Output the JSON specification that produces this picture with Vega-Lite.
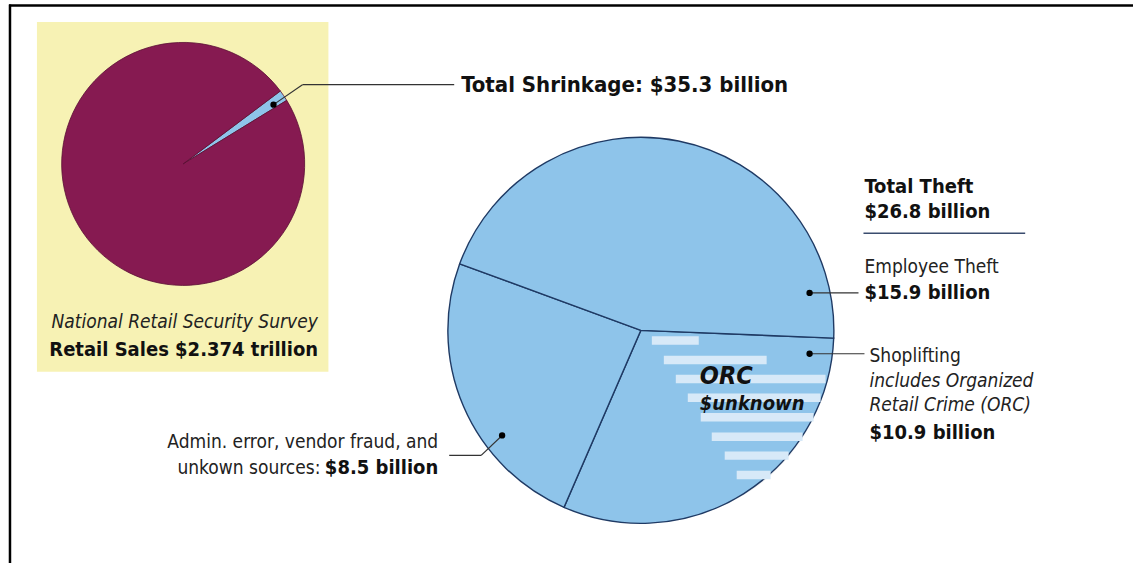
{
  "$schema": "https://vega.github.io/schema/vega-lite/v6.json",
  "width": 1135,
  "height": 565,
  "autosize": {"type": "fit", "contains": "padding"},
  "padding": 0,
  "background": "white",
  "config": {"view": {"stroke": null}, "font": "DejaVu Sans Condensed, Roboto, sans-serif"},
  "data": {"values": [{}]},
  "resolve": {"scale": {"theta": "independent", "color": "independent"}},
  "layer": [
    {
      "mark": {"type": "rule", "color": "#000000", "strokeWidth": 2.5},
      "encoding": {
        "x": {"datum": 9, "type": "quantitative", "scale": {"domain": [0, 1135], "nice": false, "zero": false}, "axis": null},
        "x2": {"datum": 1135},
        "y": {"datum": 5.5, "type": "quantitative", "scale": {"domain": [0, 565], "reverse": true, "nice": false, "zero": false}, "axis": null}
      }
    },
    {
      "mark": {"type": "rule", "color": "#000000", "strokeWidth": 2.5},
      "encoding": {
        "x": {"datum": 10, "type": "quantitative", "scale": {"domain": [0, 1135], "nice": false, "zero": false}, "axis": null},
        "y": {"datum": 4.5, "type": "quantitative", "scale": {"domain": [0, 565], "reverse": true, "nice": false, "zero": false}, "axis": null},
        "y2": {"datum": 565}
      }
    },
    {
      "mark": {"type": "rect", "color": "#F7F2B4"},
      "encoding": {
        "x": {"datum": 37, "type": "quantitative", "scale": {"domain": [0, 1135], "nice": false, "zero": false}, "axis": null},
        "x2": {"datum": 329},
        "y": {"datum": 22, "type": "quantitative", "scale": {"domain": [0, 565], "reverse": true, "nice": false, "zero": false}, "axis": null},
        "y2": {"datum": 373}
      }
    },
    {
      "data": {"values": [
        {"segment": "Total Shrinkage", "value": 35.3, "k": 1},
        {"segment": "Other retail sales", "value": 2338.7, "k": 2}
      ]},
      "mark": {"type": "arc", "radius": 121.5, "stroke": "#5A0F33", "strokeWidth": 0.8},
      "encoding": {
        "x": {"datum": 183.5, "type": "quantitative", "scale": {"domain": [0, 1135], "nice": false, "zero": false}, "axis": null},
        "y": {"datum": 164.5, "type": "quantitative", "scale": {"domain": [0, 565], "reverse": true, "nice": false, "zero": false}, "axis": null},
        "theta": {"field": "value", "type": "quantitative", "stack": true, "scale": {"range": [0.927, 7.2102]}},
        "order": {"field": "k", "type": "quantitative"},
        "color": {"field": "segment", "type": "nominal", "legend": null,
          "scale": {"domain": ["Total Shrinkage", "Other retail sales"], "range": ["#8EC4EA", "#861A51"]}}
      }
    },
    {
      "mark": {"type": "circle", "size": 126000, "color": "#000000", "opacity": 0.05},
      "encoding": {
        "x": {"datum": 654, "type": "quantitative", "scale": {"domain": [0, 1135], "nice": false, "zero": false}, "axis": null},
        "y": {"datum": 344, "type": "quantitative", "scale": {"domain": [0, 565], "reverse": true, "nice": false, "zero": false}, "axis": null}
      }
    },
    {
      "mark": {"type": "circle", "size": 121000, "color": "#000000", "opacity": 0.09},
      "encoding": {
        "x": {"datum": 650, "type": "quantitative", "scale": {"domain": [0, 1135], "nice": false, "zero": false}, "axis": null},
        "y": {"datum": 340, "type": "quantitative", "scale": {"domain": [0, 565], "reverse": true, "nice": false, "zero": false}, "axis": null}
      }
    },
    {
      "mark": {"type": "circle", "size": 118000, "color": "#000000", "opacity": 0.14},
      "encoding": {
        "x": {"datum": 646, "type": "quantitative", "scale": {"domain": [0, 1135], "nice": false, "zero": false}, "axis": null},
        "y": {"datum": 336, "type": "quantitative", "scale": {"domain": [0, 565], "reverse": true, "nice": false, "zero": false}, "axis": null}
      }
    },
    {
      "data": {"values": [
        {"category": "Shoplifting", "value": 10.9, "k": 1},
        {"category": "Admin. error, vendor fraud, and unkown sources", "value": 8.5, "k": 2},
        {"category": "Employee Theft", "value": 15.9, "k": 3}
      ]},
      "mark": {"type": "arc", "radius": 193, "fill": "#8EC4EA", "stroke": "#1F3A64", "strokeWidth": 1.4},
      "encoding": {
        "x": {"datum": 642, "type": "quantitative", "scale": {"domain": [0, 1135], "nice": false, "zero": false}, "axis": null},
        "y": {"datum": 331.5, "type": "quantitative", "scale": {"domain": [0, 565], "reverse": true, "nice": false, "zero": false}, "axis": null},
        "theta": {"field": "value", "type": "quantitative", "stack": true, "scale": {"range": [1.611, 7.8942]}},
        "order": {"field": "k", "type": "quantitative"}
      }
    },
    {
      "data": {"values": [
        {"y": 337.5, "y2": 346, "x": 653, "x2": 700},
        {"y": 357, "y2": 365.5, "x": 665, "x2": 768},
        {"y": 376, "y2": 384.5, "x": 677, "x2": 827},
        {"y": 395, "y2": 403.5, "x": 689, "x2": 822},
        {"y": 414.5, "y2": 423, "x": 702, "x2": 815},
        {"y": 434, "y2": 442.5, "x": 713, "x2": 804},
        {"y": 453, "y2": 461.5, "x": 726, "x2": 790},
        {"y": 472.5, "y2": 481, "x": 738, "x2": 772}
      ]},
      "mark": {"type": "rect", "color": "#D7E9F8"},
      "encoding": {
        "x": {"field": "x", "type": "quantitative", "scale": {"domain": [0, 1135], "nice": false, "zero": false}, "axis": null},
        "x2": {"field": "x2"},
        "y": {"field": "y", "type": "quantitative", "scale": {"domain": [0, 565], "reverse": true, "nice": false, "zero": false}, "axis": null},
        "y2": {"field": "y2"}
      }
    },
    {
      "mark": {"type": "rule", "color": "#333333", "strokeWidth": 1.2},
      "encoding": {
        "x": {"datum": 274, "type": "quantitative", "scale": {"domain": [0, 1135], "nice": false, "zero": false}, "axis": null},
        "y": {"datum": 105, "type": "quantitative", "scale": {"domain": [0, 565], "reverse": true, "nice": false, "zero": false}, "axis": null},
        "x2": {"datum": 303},
        "y2": {"datum": 85}
      }
    },
    {
      "mark": {"type": "rule", "color": "#333333", "strokeWidth": 1.2},
      "encoding": {
        "x": {"datum": 303, "type": "quantitative", "scale": {"domain": [0, 1135], "nice": false, "zero": false}, "axis": null},
        "y": {"datum": 85, "type": "quantitative", "scale": {"domain": [0, 565], "reverse": true, "nice": false, "zero": false}, "axis": null},
        "x2": {"datum": 455}
      }
    },
    {
      "mark": {"type": "rule", "color": "#333333", "strokeWidth": 1.2},
      "encoding": {
        "x": {"datum": 811, "type": "quantitative", "scale": {"domain": [0, 1135], "nice": false, "zero": false}, "axis": null},
        "y": {"datum": 294, "type": "quantitative", "scale": {"domain": [0, 565], "reverse": true, "nice": false, "zero": false}, "axis": null},
        "x2": {"datum": 860}
      }
    },
    {
      "mark": {"type": "rule", "color": "#333333", "strokeWidth": 1.2},
      "encoding": {
        "x": {"datum": 811, "type": "quantitative", "scale": {"domain": [0, 1135], "nice": false, "zero": false}, "axis": null},
        "y": {"datum": 355, "type": "quantitative", "scale": {"domain": [0, 565], "reverse": true, "nice": false, "zero": false}, "axis": null},
        "x2": {"datum": 866}
      }
    },
    {
      "mark": {"type": "rule", "color": "#333333", "strokeWidth": 1.2},
      "encoding": {
        "x": {"datum": 503, "type": "quantitative", "scale": {"domain": [0, 1135], "nice": false, "zero": false}, "axis": null},
        "y": {"datum": 437, "type": "quantitative", "scale": {"domain": [0, 565], "reverse": true, "nice": false, "zero": false}, "axis": null},
        "x2": {"datum": 482},
        "y2": {"datum": 457}
      }
    },
    {
      "mark": {"type": "rule", "color": "#333333", "strokeWidth": 1.2},
      "encoding": {
        "x": {"datum": 482, "type": "quantitative", "scale": {"domain": [0, 1135], "nice": false, "zero": false}, "axis": null},
        "y": {"datum": 457, "type": "quantitative", "scale": {"domain": [0, 565], "reverse": true, "nice": false, "zero": false}, "axis": null},
        "x2": {"datum": 450}
      }
    },
    {
      "mark": {"type": "rule", "color": "#3A4C6E", "strokeWidth": 1.5},
      "encoding": {
        "x": {"datum": 865, "type": "quantitative", "scale": {"domain": [0, 1135], "nice": false, "zero": false}, "axis": null},
        "y": {"datum": 234, "type": "quantitative", "scale": {"domain": [0, 565], "reverse": true, "nice": false, "zero": false}, "axis": null},
        "x2": {"datum": 1027}
      }
    },
    {
      "data": {"values": [
        {"label": "Total Shrinkage", "px": 274, "py": 105},
        {"label": "Employee Theft", "px": 811, "py": 294},
        {"label": "Shoplifting", "px": 811, "py": 355},
        {"label": "Admin. error", "px": 503, "py": 437}
      ]},
      "mark": {"type": "circle", "size": 40, "color": "#000000", "opacity": 1},
      "encoding": {
        "x": {"field": "px", "type": "quantitative", "scale": {"domain": [0, 1135], "nice": false, "zero": false}, "axis": null},
        "y": {"field": "py", "type": "quantitative", "scale": {"domain": [0, 565], "reverse": true, "nice": false, "zero": false}, "axis": null}
      }
    },
    {
      "mark": {"type": "text", "text": "Total Shrinkage: $35.3 billion", "fontWeight": "bold", "fontSize": 22, "align": "left", "baseline": "middle", "color": "#111111"},
      "encoding": {
        "x": {"datum": 462, "type": "quantitative", "scale": {"domain": [0, 1135], "nice": false, "zero": false}, "axis": null},
        "y": {"datum": 85, "type": "quantitative", "scale": {"domain": [0, 565], "reverse": true, "nice": false, "zero": false}, "axis": null}
      }
    },
    {
      "mark": {"type": "text", "text": "National Retail Security Survey", "fontStyle": "italic", "fontSize": 19, "align": "center", "baseline": "middle", "color": "#222222"},
      "encoding": {
        "x": {"datum": 185, "type": "quantitative", "scale": {"domain": [0, 1135], "nice": false, "zero": false}, "axis": null},
        "y": {"datum": 323, "type": "quantitative", "scale": {"domain": [0, 565], "reverse": true, "nice": false, "zero": false}, "axis": null}
      }
    },
    {
      "mark": {"type": "text", "text": "Retail Sales $2.374 trillion", "fontWeight": "bold", "fontSize": 20, "align": "center", "baseline": "middle", "color": "#111111"},
      "encoding": {
        "x": {"datum": 184, "type": "quantitative", "scale": {"domain": [0, 1135], "nice": false, "zero": false}, "axis": null},
        "y": {"datum": 351, "type": "quantitative", "scale": {"domain": [0, 565], "reverse": true, "nice": false, "zero": false}, "axis": null}
      }
    },
    {
      "mark": {"type": "text", "text": ["Total Theft", "$26.8 billion"], "lineHeight": 25, "fontWeight": "bold", "fontSize": 20, "align": "left", "baseline": "middle", "color": "#111111"},
      "encoding": {
        "x": {"datum": 866, "type": "quantitative", "scale": {"domain": [0, 1135], "nice": false, "zero": false}, "axis": null},
        "y": {"datum": 188, "type": "quantitative", "scale": {"domain": [0, 565], "reverse": true, "nice": false, "zero": false}, "axis": null}
      }
    },
    {
      "mark": {"type": "text", "text": "Employee Theft", "fontSize": 19, "align": "left", "baseline": "middle", "color": "#222222"},
      "encoding": {
        "x": {"datum": 866, "type": "quantitative", "scale": {"domain": [0, 1135], "nice": false, "zero": false}, "axis": null},
        "y": {"datum": 268, "type": "quantitative", "scale": {"domain": [0, 565], "reverse": true, "nice": false, "zero": false}, "axis": null}
      }
    },
    {
      "mark": {"type": "text", "text": "$15.9 billion", "fontWeight": "bold", "fontSize": 20, "align": "left", "baseline": "middle", "color": "#111111"},
      "encoding": {
        "x": {"datum": 866, "type": "quantitative", "scale": {"domain": [0, 1135], "nice": false, "zero": false}, "axis": null},
        "y": {"datum": 294, "type": "quantitative", "scale": {"domain": [0, 565], "reverse": true, "nice": false, "zero": false}, "axis": null}
      }
    },
    {
      "mark": {"type": "text", "text": "Shoplifting", "fontSize": 19, "align": "left", "baseline": "middle", "color": "#222222"},
      "encoding": {
        "x": {"datum": 871, "type": "quantitative", "scale": {"domain": [0, 1135], "nice": false, "zero": false}, "axis": null},
        "y": {"datum": 357, "type": "quantitative", "scale": {"domain": [0, 565], "reverse": true, "nice": false, "zero": false}, "axis": null}
      }
    },
    {
      "mark": {"type": "text", "text": ["includes Organized", "Retail Crime (ORC)"], "lineHeight": 24, "fontStyle": "italic", "fontSize": 19, "align": "left", "baseline": "middle", "color": "#222222"},
      "encoding": {
        "x": {"datum": 871, "type": "quantitative", "scale": {"domain": [0, 1135], "nice": false, "zero": false}, "axis": null},
        "y": {"datum": 382, "type": "quantitative", "scale": {"domain": [0, 565], "reverse": true, "nice": false, "zero": false}, "axis": null}
      }
    },
    {
      "mark": {"type": "text", "text": "$10.9 billion", "fontWeight": "bold", "fontSize": 20, "align": "left", "baseline": "middle", "color": "#111111"},
      "encoding": {
        "x": {"datum": 871, "type": "quantitative", "scale": {"domain": [0, 1135], "nice": false, "zero": false}, "axis": null},
        "y": {"datum": 435, "type": "quantitative", "scale": {"domain": [0, 565], "reverse": true, "nice": false, "zero": false}, "axis": null}
      }
    },
    {
      "mark": {"type": "text", "text": "Admin. error, vendor fraud, and", "fontSize": 19, "align": "right", "baseline": "middle", "color": "#222222"},
      "encoding": {
        "x": {"datum": 439, "type": "quantitative", "scale": {"domain": [0, 1135], "nice": false, "zero": false}, "axis": null},
        "y": {"datum": 444, "type": "quantitative", "scale": {"domain": [0, 565], "reverse": true, "nice": false, "zero": false}, "axis": null}
      }
    },
    {
      "mark": {"type": "text", "text": "unkown sources:", "fontSize": 19, "align": "right", "baseline": "middle", "color": "#222222"},
      "encoding": {
        "x": {"datum": 321, "type": "quantitative", "scale": {"domain": [0, 1135], "nice": false, "zero": false}, "axis": null},
        "y": {"datum": 470, "type": "quantitative", "scale": {"domain": [0, 565], "reverse": true, "nice": false, "zero": false}, "axis": null}
      }
    },
    {
      "mark": {"type": "text", "text": "$8.5 billion", "fontWeight": "bold", "fontSize": 20, "align": "right", "baseline": "middle", "color": "#111111"},
      "encoding": {
        "x": {"datum": 439, "type": "quantitative", "scale": {"domain": [0, 1135], "nice": false, "zero": false}, "axis": null},
        "y": {"datum": 470, "type": "quantitative", "scale": {"domain": [0, 565], "reverse": true, "nice": false, "zero": false}, "axis": null}
      }
    },
    {
      "mark": {"type": "text", "text": "ORC", "fontWeight": "bold", "fontStyle": "italic", "fontSize": 25, "align": "left", "baseline": "middle", "color": "#111111"},
      "encoding": {
        "x": {"datum": 701, "type": "quantitative", "scale": {"domain": [0, 1135], "nice": false, "zero": false}, "axis": null},
        "y": {"datum": 377, "type": "quantitative", "scale": {"domain": [0, 565], "reverse": true, "nice": false, "zero": false}, "axis": null}
      }
    },
    {
      "mark": {"type": "text", "text": "$unknown", "fontWeight": 600, "fontStyle": "italic", "fontSize": 20, "align": "left", "baseline": "middle", "color": "#111111"},
      "encoding": {
        "x": {"datum": 701, "type": "quantitative", "scale": {"domain": [0, 1135], "nice": false, "zero": false}, "axis": null},
        "y": {"datum": 405, "type": "quantitative", "scale": {"domain": [0, 565], "reverse": true, "nice": false, "zero": false}, "axis": null}
      }
    }
  ]
}
